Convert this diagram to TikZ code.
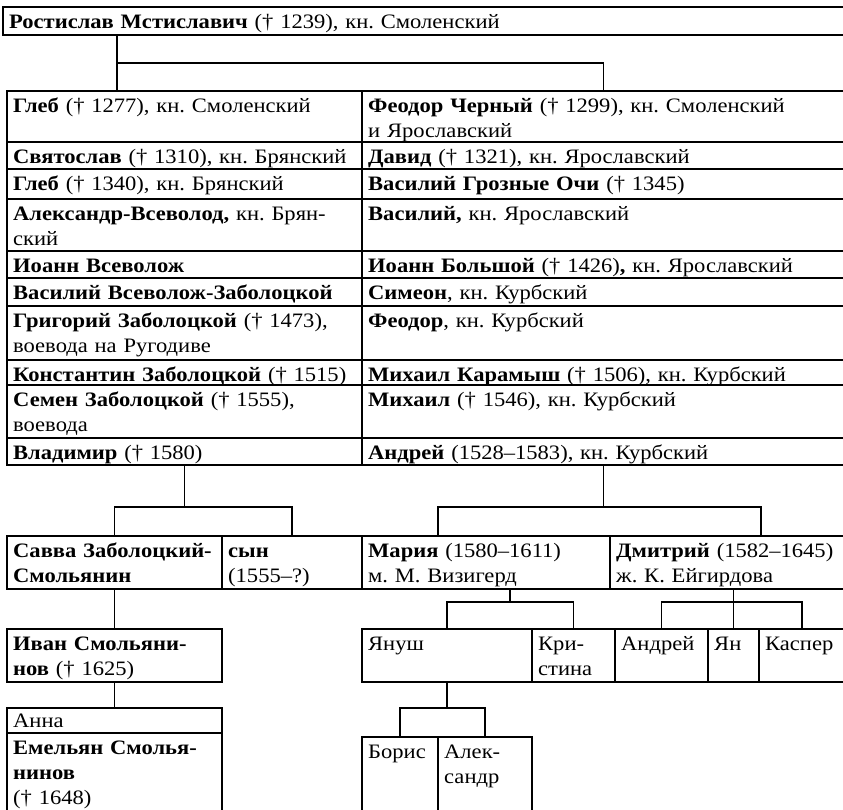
\documentclass[tikz,border=0pt]{standalone}
\usepackage{fontspec}
\setmainfont{Liberation Serif}[FakeStretch=1.1]
\frenchspacing
\newcommand{\gcell}[6]{%
  \node[cellbox, minimum width={(#4)-(#2)}, minimum height={(#5)-(#3)}] (#1) at ({((#2)+(#4))/2},{((#3)+(#5))/2}) {};
  \node[txt] (#1t) at ({(#2)+6},{(#3)+21}) {#6};}
\newcommand{\ecell}[5]{%
  \node[cellbox, minimum width={(#4)-(#2)}, minimum height={(#5)-(#3)}] (#1) at ({((#2)+(#4))/2},{((#3)+(#5))/2}) {};}
\begin{document}
\begin{tikzpicture}[x=1pt,y=-1pt,
  cellbox/.style={draw, line width=1.9pt, inner sep=0pt, outer sep=0pt},
  txt/.style={anchor=base west, inner sep=0pt, text width=820pt, align=left, font=\fontsize{20.5}{25}\selectfont\frenchspacing},
  conn/.style={line width=1.7pt}]
\useasboundingbox (0,0) rectangle (843,809);
\clip (0,0) rectangle (843,809);
% top
\gcell{rost}{3}{7}{845}{35}{\textbf{Ростислав Мстиславич} († 1239), кн. Смоленский}
% table
\gcell{l1}{7}{91}{362}{142}{\textbf{Глеб} († 1277), кн. Смоленский}
\gcell{l2}{7}{142}{362}{169}{\textbf{Святослав} († 1310), кн. Брянский}
\gcell{l3}{7}{169}{362}{199}{\textbf{Глеб} († 1340), кн. Брянский}
\gcell{l4}{7}{199}{362}{251}{\textbf{Александр-Всеволод,} кн. Брян-\\ский}
\gcell{l5}{7}{251}{362}{278}{\textbf{Иоанн Всеволож}}
\gcell{l6}{7}{278}{362}{306}{\textbf{Василий Всеволож-Заболоцкой}}
\gcell{l7}{7}{306}{362}{360}{\textbf{Григорий Заболоцкой} († 1473),\\воевода на Ругодиве}
\gcell{l8}{7}{360}{362}{385}{\textbf{Константин Заболоцкой} († 1515)}
\gcell{l9}{7}{385}{362}{438}{\textbf{Семен Заболоцкой} († 1555),\\воевода}
\gcell{l10}{7}{438}{362}{465}{\textbf{Владимир} († 1580)}
\gcell{r1}{362}{91}{845}{142}{\textbf{Феодор Черный} († 1299), кн. Смоленский\\и Ярославский}
\gcell{r2}{362}{142}{845}{169}{\textbf{Давид} († 1321), кн. Ярославский}
\gcell{r3}{362}{169}{845}{199}{\textbf{Василий Грозные Очи} († 1345)}
\gcell{r4}{362}{199}{845}{251}{\textbf{Василий,} кн. Ярославский}
\gcell{r5}{362}{251}{845}{278}{\textbf{Иоанн Большой} († 1426)\textbf{,} кн. Ярославский}
\gcell{r6}{362}{278}{845}{306}{\textbf{Симеон}, кн. Курбский}
\gcell{r7}{362}{306}{845}{360}{\textbf{Феодор}, кн. Курбский}
\gcell{r8}{362}{360}{845}{385}{\textbf{Михаил Карамыш} († 1506), кн. Курбский}
\gcell{r9}{362}{385}{845}{438}{\textbf{Михаил} († 1546), кн. Курбский}
\gcell{r10}{362}{438}{845}{465}{\textbf{Андрей} (1528–1583), кн. Курбский}
% row A
\gcell{savva}{7}{536}{222}{589}{\textbf{Савва Заболоцкий-}\\\textbf{Смольянин}}
\gcell{syn}{222}{536}{362}{589}{\textbf{сын}\\(1555–?)}
\gcell{maria}{362}{536}{610}{589}{\textbf{Мария} (1580–1611)\\м. М. Визигерд}
\gcell{dmitry}{610}{536}{845}{589}{\textbf{Дмитрий} (1582–1645)\\ж. К. Ейгирдова}
% row B
\gcell{ivan}{7}{629}{222}{682}{\textbf{Иван Смольяни-}\\\textbf{нов} († 1625)}
\gcell{janusz}{362}{629}{532}{682}{Януш}
\gcell{kristina}{532}{629}{615}{682}{Кри-\\стина}
\gcell{andrej}{615}{629}{708}{682}{Андрей}
\gcell{jan}{708}{629}{759}{682}{Ян}
\gcell{kasper}{759}{629}{845}{682}{Каспер}
% row C
\ecell{anna}{7}{708}{222}{733}
\node[txt] (annat) at (13,727) {Анна};
\gcell{emel}{7}{733}{222}{840}{\textbf{Емельян Смолья-}\\\textbf{нинов}\\(† 1648)}
\gcell{boris}{362}{737}{438}{840}{Борис}
\gcell{alex}{438}{737}{532}{840}{Алек-\\сандр}
% connectors
\coordinate (tf) at (117,63);
\draw[conn] (rost.south -| tf) -- (tf |- l1.north);
\draw[conn] (tf) -| (r1.north);
\coordinate (vf) at (0,507);
\draw[conn] (l10.south) -- (l10.south |- vf);
\draw[conn] (savva.north) |- (syn.north |- vf) -- (syn.north);
\coordinate (afL) at (438,507);
\coordinate (afR) at (761,507);
\draw[conn] (r10.south) -- (r10.south |- vf);
\draw[conn] (maria.north -| afL) -- (afL) -- (afR) -- (afR |- dmitry.north);
\draw[conn] (savva.south) -- (ivan.north);
\coordinate (mf) at (510,602);
\draw[conn] (maria.south -| mf) -- (mf);
\draw[conn] (janusz.north) |- (kristina.north |- mf) -- (kristina.north);
\draw[conn] (dmitry.south -| jan.north) -- (jan.north);
\draw[conn] (andrej.north) |- (kasper.north |- mf) -- (kasper.north);
\draw[conn] (ivan.south) -- (anna.north);
\coordinate (jf) at (0,708);
\draw[conn] (janusz.south) -- (janusz.south |- jf);
\draw[conn] (boris.north) |- (alex.north |- jf) -- (alex.north);
\end{tikzpicture}
\end{document}
